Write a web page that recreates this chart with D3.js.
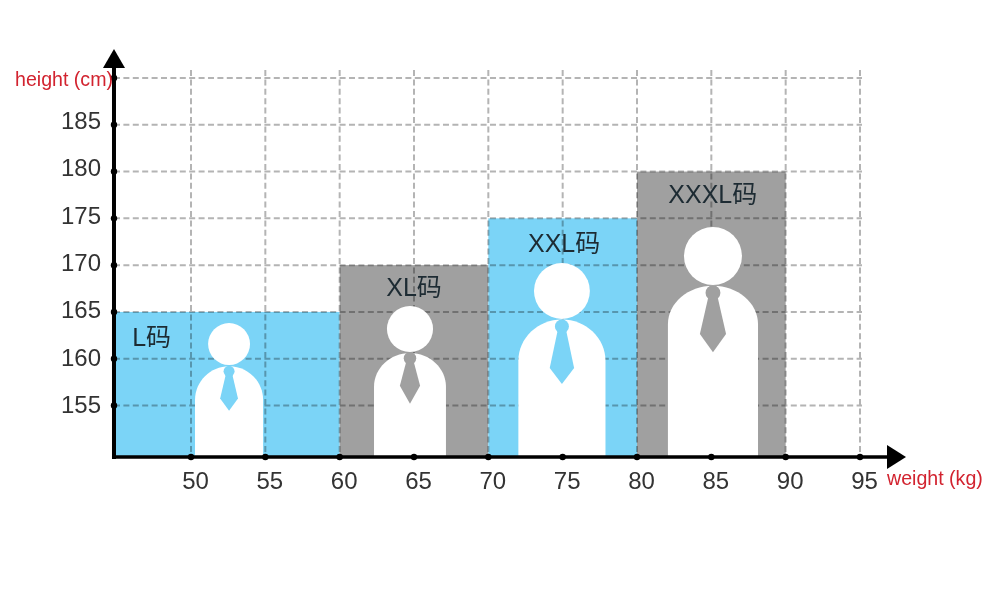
<!DOCTYPE html>
<html><head><meta charset="utf-8">
<script src="https://cdn.jsdelivr.net/npm/d3@7"></script>
<style>html,body{margin:0;padding:0;background:#fff}svg{display:block}
text{font-family:"Liberation Sans","Noto Sans CJK SC",sans-serif}</style></head>
<body><svg id="c" width="1000" height="600"></svg>
<script>
// data
const sizes      = ["L码","XL码","XXL码","XXXL码"];
const binStart   = [44.82,60,70,80];
const binEnd     = [60,70,80,90];
const binTop     = [165,170,175,180];
const binColors  = ["#7bd4f7","#a0a0a0","#7bd4f7","#a0a0a0"];
const labelX     = [47.35,65,75.1,85.1];
const labelY     = [161.4,166.72,171.42,176.62];
const xTicks     = [50,55,60,65,70,75,80,85,90,95];
const yTicks     = [155,160,165,170,175,180,185,190];
// figure measurements in chart units
const figX       = [52.56,64.73,74.95,85.11];
const headY      = [161.57,163.17,167.24,170.98];
const headR      = [1.41,1.55,1.88,1.95];
const bodyHalf   = [2.29,2.42,2.93,3.03];
const bodyTop    = [159.2,160.6,164.2,167.8];
const shoulderY  = [155.6,157.0,159.8,163.7];
const knotY      = [158.65,160.05,163.45,167.05];
const knotR      = [0.37,0.42,0.47,0.5];
const tieWideY   = [155.75,157.1,159.0,162.65];
const tieHalf    = [0.6,0.68,0.82,0.88];
const tieBottomY = [154.45,155.2,157.3,160.7];

const x = d3.scaleLinear().domain([50,95]).range([191,860]);
const y = d3.scaleLinear().domain([155,190]).range([405.5,78]);
// tick labels drift slightly from their ticks in the reference
const yLabel = d3.scaleLinear().domain([155,185]).range([405,120.5]);
const svg = d3.select("#c");
const base = y(149.5), left = x(44.82);
const n = d3.range(sizes.length);

// bins
svg.append("g").selectAll("rect").data(n).join("rect")
  .attr("x",i=>x(binStart[i])).attr("y",i=>y(binTop[i]))
  .attr("width",i=>x(binEnd[i])-x(binStart[i]))
  .attr("height",i=>base-y(binTop[i]))
  .attr("fill",i=>binColors[i]);

// grid
const grid = svg.append("g").style("mix-blend-mode","multiply")
  .attr("stroke","#b4b4b4").attr("stroke-width",2).attr("stroke-dasharray","6 3.4").attr("fill","none");
grid.selectAll(".h").data(yTicks).join("line").attr("class","h")
  .attr("x1",left).attr("x2",x(95)+2).attr("y1",d=>y(d)).attr("y2",d=>y(d));
grid.selectAll(".v").data(xTicks).join("line").attr("class","v")
  .attr("x1",d=>x(d)).attr("x2",d=>x(d)).attr("y1",y(190)-8).attr("y2",base);

// figures
const fig = svg.append("g").selectAll("g").data(n).join("g");
fig.append("circle").attr("cx",i=>x(figX[i])).attr("cy",i=>y(headY[i]))
  .attr("r",i=>x(50+headR[i])-x(50)).attr("fill","#fff");
fig.append("path").attr("fill","#fff").attr("d",i=>{
  const l=x(figX[i]-bodyHalf[i]), r=x(figX[i]+bodyHalf[i]), c=x(figX[i]);
  const t=y(bodyTop[i]), s=y(shoulderY[i]);
  const p=d3.path();
  p.moveTo(l,base); p.lineTo(l,s);
  p.bezierCurveTo(l,s-(s-t)*.55,c-(c-l)*.55,t,c,t);
  p.bezierCurveTo(c+(r-c)*.55,t,r,s-(s-t)*.55,r,s);
  p.lineTo(r,base); p.closePath();
  return p.toString();
});
fig.append("path").attr("fill",i=>binColors[i]).attr("d",i=>{
  const c=x(figX[i]), w=x(50+tieHalf[i])-x(50), kw=w*.28;
  const k=y(knotY[i]), m=y(tieWideY[i]), b=y(tieBottomY[i]);
  return d3.line()([[c-kw,k],[c+kw,k],[c+w,m],[c,b],[c-w,m]])+"Z";
});
fig.append("circle").attr("cx",i=>x(figX[i])).attr("cy",i=>y(knotY[i]))
  .attr("r",i=>x(50+knotR[i])-x(50)).attr("fill",i=>binColors[i]);

// size labels
svg.append("g").selectAll("text").data(n).join("text")
  .attr("x",i=>x(labelX[i])).attr("y",i=>y(labelY[i]))
  .attr("text-anchor","middle").attr("font-size",25).attr("fill","#1d2b33")
  .text(i=>sizes[i]);

// axes
const yAxis = d3.axisLeft(y).tickValues(yTicks.slice(0,-1)).tickSize(0).tickPadding(0);
const gy = svg.append("g").attr("transform",`translate(${left},0)`).call(yAxis);
gy.select(".domain").remove();
gy.selectAll("text").attr("x",-13).attr("dy",".32em").attr("y",d=>yLabel(d)-y(d))
  .attr("font-size",24).attr("fill","#333").attr("font-family",null);
const xAxis = d3.axisBottom(x).tickValues(xTicks).tickSize(0).tickPadding(0);
const gx = svg.append("g").attr("transform",`translate(0,${base})`).call(xAxis);
gx.select(".domain").remove();
gx.selectAll("text").attr("x",4).attr("y",15).attr("dy",".71em")
  .attr("font-size",24).attr("fill","#333").attr("font-family",null);

svg.append("line").attr("x1",left).attr("x2",left).attr("y1",60).attr("y2",base+2).attr("stroke","#000").attr("stroke-width",4);
svg.append("line").attr("x1",left-2).attr("x2",890).attr("y1",base).attr("y2",base).attr("stroke","#000").attr("stroke-width",3.5);
svg.append("path").attr("d",d3.line()([[left,49],[left+11,68],[left-11,68]])+"Z").attr("fill","#000");
svg.append("path").attr("d",d3.line()([[906,base],[887,base-12],[887,base+12]])+"Z").attr("fill","#000");
svg.append("g").selectAll("circle").data(yTicks).join("circle")
  .attr("cx",left).attr("cy",d=>y(d)).attr("r",3.2).attr("fill","#000");
svg.append("g").selectAll("circle").data(xTicks).join("circle")
  .attr("cx",d=>x(d)).attr("cy",base).attr("r",3.2).attr("fill","#000");

// axis titles
svg.append("text").attr("x",15).attr("y",86).attr("font-size",19.6).attr("fill","#d2232f").text("height (cm)");
svg.append("text").attr("x",887).attr("y",485).attr("font-size",19.6).attr("fill","#d2232f").text("weight (kg)");
</script></body></html>
